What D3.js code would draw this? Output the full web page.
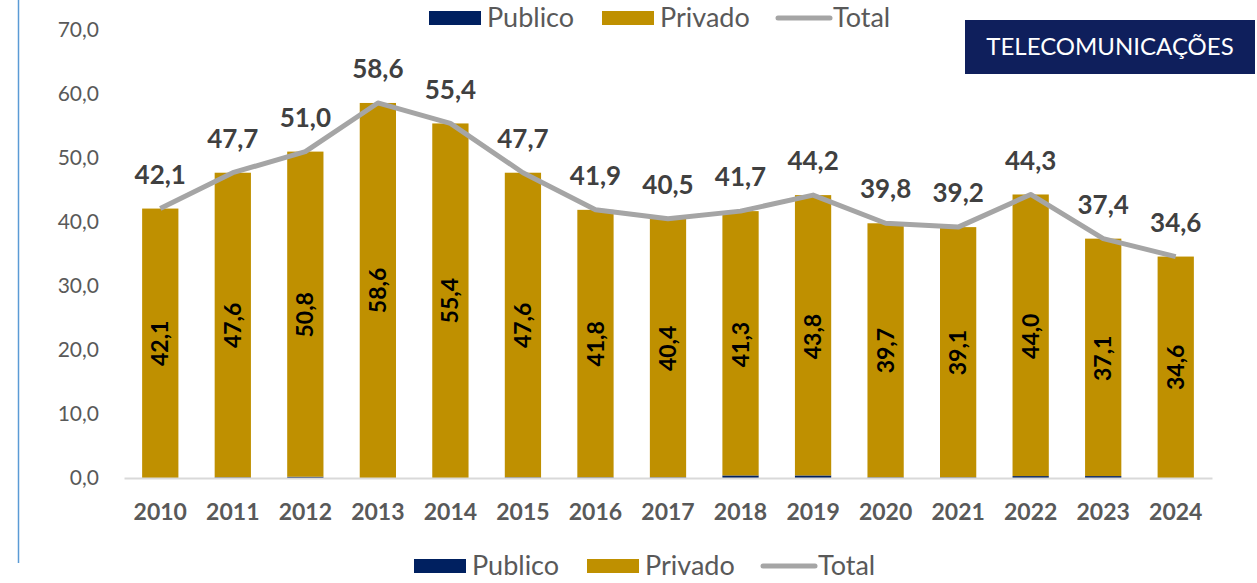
<!DOCTYPE html>
<html>
<head>
<meta charset="utf-8">
<script src="https://cdn.jsdelivr.net/npm/d3@7"></script>
<style>
  body { margin: 0; background: #fff; }
  svg { display: block; font-family: Lato, "Open Sans", sans-serif; }
</style>
</head>
<body>
<div id="chart"></div>
<script>
// Données
const years = ["2010","2011","2012","2013","2014","2015","2016","2017","2018","2019","2020","2021","2022","2023","2024"];
const publico = [0.0, 0.1, 0.2, 0.0, 0.0, 0.1, 0.1, 0.1, 0.4, 0.4, 0.1, 0.1, 0.3, 0.3, 0.0];
const privado = [42.1, 47.6, 50.8, 58.6, 55.4, 47.6, 41.8, 40.4, 41.3, 43.8, 39.7, 39.1, 44.0, 37.1, 34.6];
const total = [42.1, 47.7, 51.0, 58.6, 55.4, 47.7, 41.9, 40.5, 41.7, 44.2, 39.8, 39.2, 44.3, 37.4, 34.6];
const yTicks = [0, 10, 20, 30, 40, 50, 60, 70];
const title = "TELECOMUNICAÇÕES";

const W = 1257, H = 583;
const colPub = "#002060", colPriv = "#bf9000", colTot = "#a5a5a5";
const fmt = v => d3.format(".1f")(v).replace(".", ",");

const svg = d3.select("#chart").append("svg")
    .attr("width", W).attr("height", H);

// Échelles
const x = d3.scaleBand().domain(years).range([124, 1212])
    .paddingInner(0.5).paddingOuter(0.25);
const y = d3.scaleLinear().domain([0, 70]).range([478, 30]);

// Ligne verticale à gauche
svg.append("line")
    .attr("x1", 18.5).attr("x2", 18.5).attr("y1", 0).attr("y2", 563)
    .attr("stroke", "#5b9bd5").attr("stroke-width", 1.5);

// Axe Y
const yAxis = svg.append("g")
    .attr("transform", "translate(102,0)")
    .call(d3.axisLeft(y).tickValues(yTicks).tickFormat(fmt).tickSize(0));
yAxis.select(".domain").remove();
yAxis.selectAll("text")
    .attr("fill", "#595959").style("font-size", "21px")
    .style("font-family", "Lato, sans-serif");

// Barres empilées
const data = years.map((yr, i) => ({ yr, pub: publico[i], priv: privado[i], tot: total[i] }));
const g = svg.append("g");
g.selectAll(".pub").data(data).enter().append("rect")
    .attr("x", d => x(d.yr)).attr("width", x.bandwidth())
    .attr("y", d => y(d.pub)).attr("height", d => y(0) - y(d.pub))
    .attr("fill", colPub);
g.selectAll(".priv").data(data).enter().append("rect")
    .attr("x", d => x(d.yr)).attr("width", x.bandwidth())
    .attr("y", d => y(d.pub + d.priv)).attr("height", d => y(d.pub) - y(d.pub + d.priv))
    .attr("fill", colPriv);

// Axe X
const xAxis = svg.append("g")
    .attr("transform", `translate(0,${y(0)})`)
    .call(d3.axisBottom(x).tickSize(0).tickPadding(26));
xAxis.select(".domain").attr("stroke", "#d9d9d9").attr("stroke-width", 2);
xAxis.selectAll("text")
    .attr("fill", "#595959").style("font-size", "23px").style("font-weight", "bold")
    .style("font-family", "Lato, sans-serif");

// Étiquettes dans les barres (verticales)
g.selectAll(".lbl").data(data).enter().append("text")
    .attr("transform", d => `translate(${x(d.yr) + x.bandwidth() / 2},${(y(0) + y(d.pub + d.priv)) / 2}) rotate(-90)`)
    .attr("text-anchor", "middle").attr("dy", "0.35em")
    .attr("fill", "#000").style("font-size", "23px").style("font-weight", "bold")
    .text(d => fmt(d.priv));

// Ligne total
const line = d3.line().x(d => x(d.yr) + x.bandwidth() / 2).y(d => y(d.tot));
svg.append("path").datum(data)
    .attr("d", line).attr("fill", "none")
    .attr("stroke", colTot).attr("stroke-width", 5).attr("stroke-linejoin", "round");

svg.selectAll(".tlbl").data(data).enter().append("text")
    .attr("x", d => x(d.yr) + x.bandwidth() / 2)
    .attr("y", d => y(d.tot) - 34).attr("dy", "0.35em")
    .attr("text-anchor", "middle")
    .attr("fill", "#404040").style("font-size", "26px").style("font-weight", "bold")
    .text(d => fmt(d.tot));

// Légendes
function legend(x0, cy) {
    const lg = svg.append("g").style("font-size", "27px").attr("fill", "#595959");
    lg.append("rect").attr("x", x0).attr("y", cy - 7).attr("width", 52).attr("height", 14).attr("fill", colPub);
    lg.append("text").attr("x", x0 + 58).attr("y", cy).attr("dy", "0.35em").text("Publico");
    lg.append("rect").attr("x", x0 + 173).attr("y", cy - 7).attr("width", 52).attr("height", 14).attr("fill", colPriv);
    lg.append("text").attr("x", x0 + 231).attr("y", cy).attr("dy", "0.35em").text("Privado");
    lg.append("line").attr("x1", x0 + 349).attr("x2", x0 + 401).attr("y1", cy).attr("y2", cy)
        .attr("stroke", colTot).attr("stroke-width", 5).attr("stroke-linecap", "round");
    lg.append("text").attr("x", x0 + 404).attr("y", cy).attr("dy", "0.35em").text("Total");
}
legend(429, 18);
legend(414, 566);

// Titre
svg.append("rect").attr("x", 965).attr("y", 20).attr("width", 290).attr("height", 54).attr("fill", "#0f1f5c");
svg.append("text").attr("x", 1110).attr("y", 47).attr("dy", "0.35em")
    .attr("text-anchor", "middle").attr("fill", "#fff").style("font-size", "24px")
    .text(title);
</script>
</body>
</html>
